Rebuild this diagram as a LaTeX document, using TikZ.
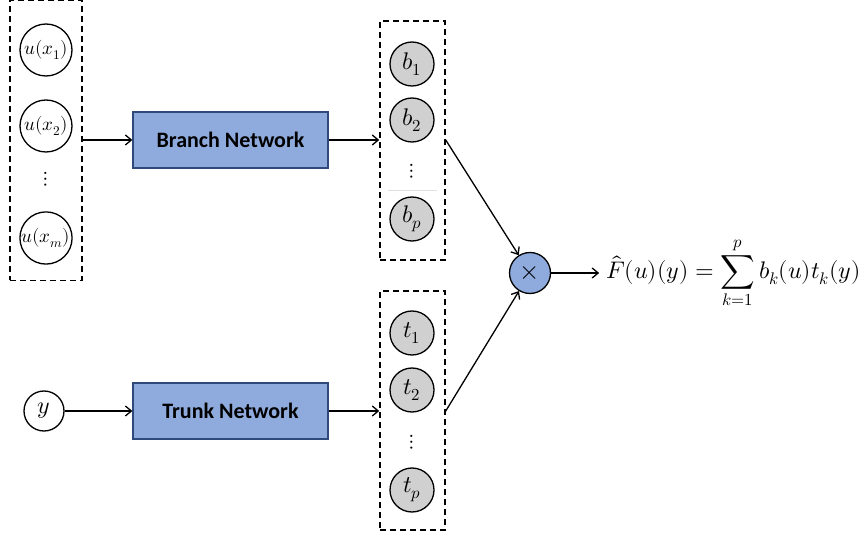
\documentclass[tikz,border=0pt]{standalone}
\usepackage{amsmath}
\usepackage{unicode-math}
\setmathfont{Latin Modern Math}
\newfontfamily\calib{Carlito}
\usetikzlibrary{arrows.meta}
\definecolor{boxblue}{HTML}{8FAADC}
\definecolor{boxedge}{HTML}{2F4A7A}
\definecolor{nodegray}{HTML}{D0D0D0}
\tikzset{
  dashbox/.style={draw, line width=1.5pt, dash pattern=on 6pt off 4pt},
  incirc/.style={circle, draw, line width=1.3pt, fill=white, inner sep=0pt, font=\fontsize{19}{21}\selectfont},
  outcirc/.style={circle, draw, line width=1.3pt, fill=nodegray, minimum size=44pt, inner sep=0pt, font=\fontsize{24}{26}\selectfont},
  netbox/.style={draw=boxedge, line width=1.3pt, fill=boxblue, minimum width=195pt, minimum height=56pt, font=\calib\bfseries\fontsize{22}{25}\selectfont},
  conn/.style={line width=1.3pt, -{Straight Barb[length=6pt,width=10pt]}},
  vdots/.style={inner sep=0pt, font=\fontsize{21}{23}\selectfont}
}
\begin{document}
\begin{tikzpicture}[x=1pt,y=-1pt]
\useasboundingbox (0,0) rectangle (865,537);
% left input box
\node[dashbox, minimum width=72pt, minimum height=280pt] (inbox) at (46,140.5) {};
\node[incirc, minimum size=52pt] (u1) at (46,50) {$u(x_1)$};
\node[incirc, minimum size=52pt] (u2) at (46,126) {$u(x_2)$};
\node[vdots] (ud) at (46,179) {$\vdots$};
\node[incirc, minimum size=52pt] (um) at (46,238) {$u(x_m)$};
% y
\node[incirc, minimum size=40pt, font=\fontsize{24}{26}\selectfont] (y) at (44,411) {$y$};
% networks
\node[netbox] (branch) at (230.5,140) {Branch Network};
\node[netbox] (trunk) at (230.5,411) {Trunk Network};
% b box
\node[dashbox, minimum width=65pt, minimum height=239pt] (bbox) at (412.5,140.5) {};
\node[outcirc] (b1) at (412,64) {$b_1$};
\node[outcirc] (b2) at (412,120) {$b_2$};
\node[vdots] (bd) at (412,171) {$\vdots$};
\draw[black!12, line width=0.6pt] (388,190) -- (437,190);
\node[outcirc] (bp) at (412,219) {$b_p$};
% t box
\node[dashbox, minimum width=65pt, minimum height=239pt] (tbox) at (412.5,410.5) {};
\node[outcirc] (t1) at (412,333) {$t_1$};
\node[outcirc] (t2) at (412,390) {$t_2$};
\node[vdots] (td) at (412,442) {$\vdots$};
\node[outcirc] (tp) at (412,490) {$t_p$};
% multiply
\node[circle, draw, line width=1.3pt, fill=boxblue, minimum size=41pt, inner sep=0pt, font=\fontsize{26}{28}\selectfont] (mul) at (530,273) {$\times$};
% formula
\node[anchor=west, inner sep=0pt, font=\fontsize{24}{28}\selectfont] (F) at (606,273) {$\displaystyle \hat{F}(u)(y)=\sum_{k=1}^{p} b_k(u)t_k(y)$};
% connectors
\draw[conn] (inbox.east |- branch.west) -- (branch.west);
\draw[conn] (branch.east) -- (bbox.west |- branch.east);
\draw[conn] (y.east) -- (trunk.west);
\draw[conn] (trunk.east) -- (tbox.west |- trunk.east);
\coordinate (bout) at (bbox.east |- branch.east);
\coordinate (tout) at (tbox.east |- trunk.east);
\draw[conn] (bout) -- (mul);
\draw[conn] (tout) -- (mul);
\draw[conn] (mul.east) -- ++(48,0) coordinate (fend);
\end{tikzpicture}
\end{document}
